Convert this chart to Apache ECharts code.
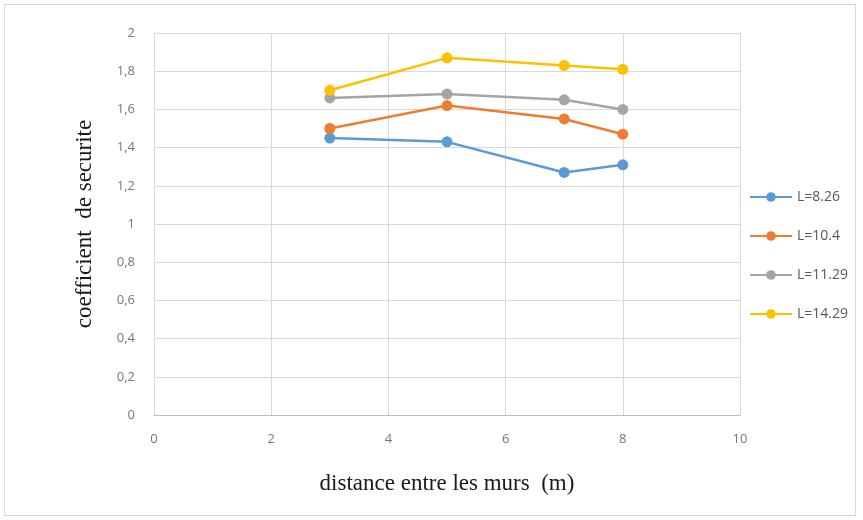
<!DOCTYPE html>
<html>
<head>
<meta charset="utf-8">
<script src="https://cdn.jsdelivr.net/npm/echarts@6/dist/echarts.min.js"></script>
<style>
  html, body { margin: 0; padding: 0; background: #fff; }
  #wrap { position: relative; width: 863px; height: 520px; }
  #frame { position: absolute; left: 4px; top: 4px; width: 852px; height: 512px; border: 1px solid #d9d9d9; box-sizing: border-box; }
  #chart { position: absolute; left: 0; top: 0; width: 863px; height: 520px; }
</style>
</head>
<body>
<div id="wrap">
  <div id="frame"></div>
  <div id="chart"></div>
</div>
<script>
// Distance between walls (m)
const distances = [3, 5, 7, 8];
// Safety factor for each length L
const seriesNames = ['L=8.26', 'L=10.4', 'L=11.29', 'L=14.29'];
const fsL826  = [1.45, 1.43, 1.27, 1.31];
const fsL104  = [1.50, 1.62, 1.55, 1.47];
const fsL1129 = [1.66, 1.68, 1.65, 1.60];
const fsL1429 = [1.70, 1.87, 1.83, 1.81];
const colors = ['#5B9BD5', '#ED7D31', '#A5A5A5', '#FFC000'];

const allValues = [fsL826, fsL104, fsL1129, fsL1429];

const fmt = v => String(v).replace('.', ',');

const chart = echarts.init(document.getElementById('chart'), null, { renderer: 'canvas' });
chart.setOption({
  backgroundColor: 'transparent',
  animation: false,
  grid: { left: 154, right: 123, top: 33, bottom: 105 },
  legend: {
    orient: 'vertical',
    left: 744,
    top: 185,
    itemGap: 25,
    itemWidth: 42,
    itemHeight: 12,
    textStyle: { color: '#595959', fontFamily: 'Open Sans', fontSize: 14 },
    data: seriesNames
  },
  xAxis: {
    type: 'value',
    min: 0, max: 10, interval: 2,
    name: 'distance entre les murs  (m)',
    nameLocation: 'middle',
    nameGap: 57,
    nameTextStyle: { fontFamily: 'Liberation Serif', fontSize: 23, color: '#1a1a1a' },
    axisLine: { show: true, lineStyle: { color: '#bfbfbf', width: 1 } },
    axisTick: { show: false },
    axisLabel: { color: '#777', fontFamily: 'Open Sans', fontSize: 13, margin: 18 },
    splitLine: { show: true, lineStyle: { color: '#d9d9d9', width: 1 } }
  },
  yAxis: {
    type: 'value',
    min: 0, max: 2, interval: 0.2,
    name: 'coefficient  de securite',
    nameLocation: 'middle',
    nameGap: 58,
    nameTextStyle: { fontFamily: 'Liberation Serif', fontSize: 23, color: '#1a1a1a' },
    axisLine: { show: true, lineStyle: { color: '#d9d9d9', width: 1 } },
    axisTick: { show: false },
    axisLabel: { color: '#777', fontFamily: 'Open Sans', fontSize: 13, margin: 19,
                 formatter: v => fmt(Math.round(v * 10) / 10) },
    splitLine: { show: true, lineStyle: { color: '#d9d9d9', width: 1 } }
  },
  series: seriesNames.map((name, i) => ({
    name,
    type: 'line',
    data: distances.map((d, j) => [d, allValues[i][j]]),
    symbol: 'circle',
    symbolSize: 11,
    lineStyle: { width: 2.5, color: colors[i] },
    itemStyle: { color: colors[i] },
    z: 2 + i
  }))
});
</script>
</body>
</html>
